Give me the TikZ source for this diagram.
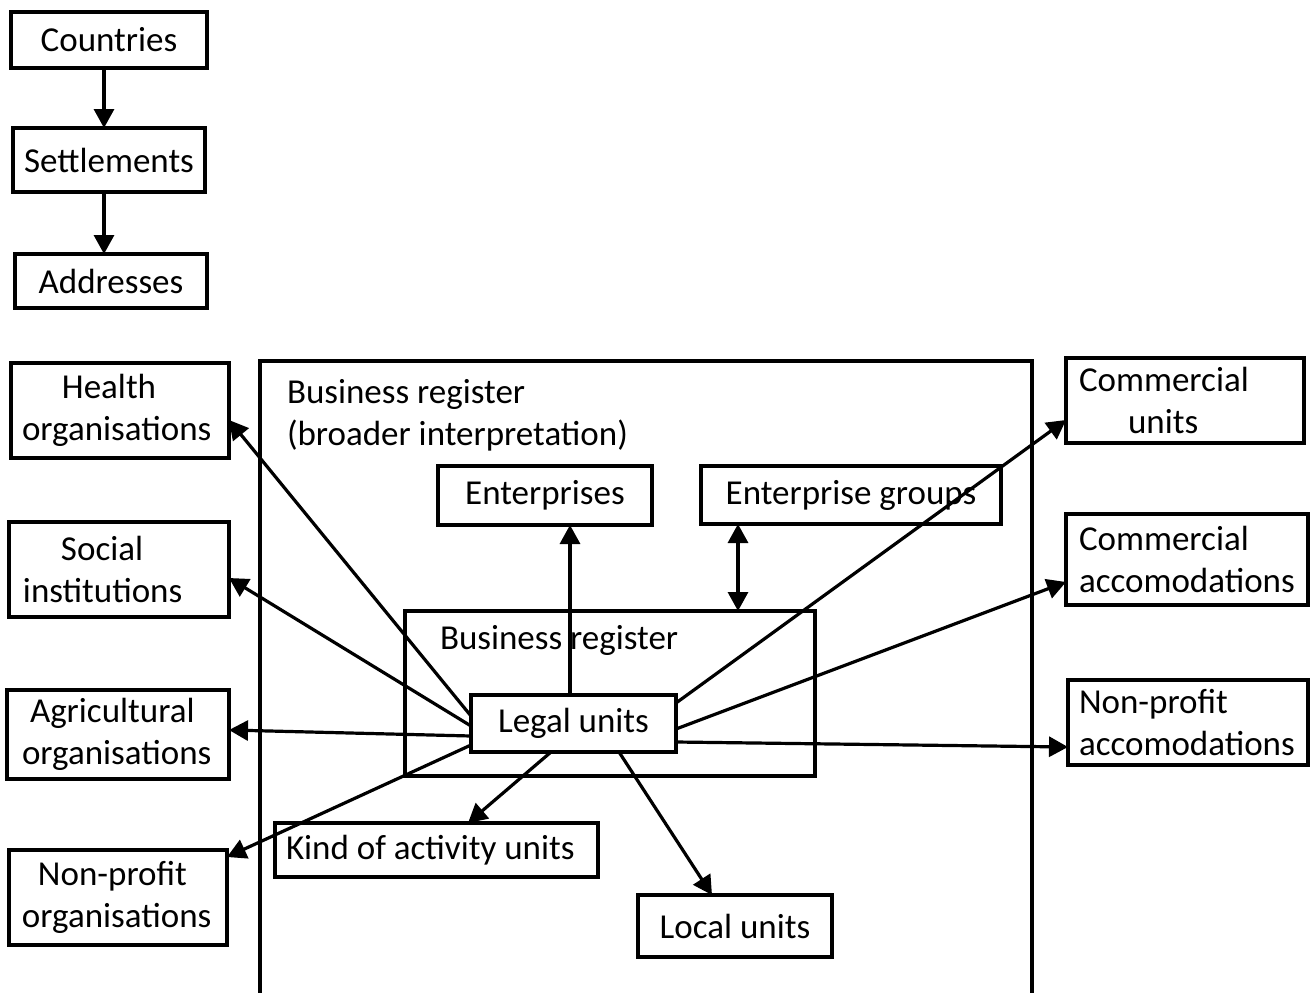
\documentclass[tikz,border=0pt]{standalone}
\usepackage{fontspec}
\setmainfont{Carlito}
\usetikzlibrary{arrows.meta,calc}
\begin{document}
\begin{tikzpicture}[x=1pt,y=-1pt,
  every node/.style={font=\fontsize{35}{42}\selectfont, inner sep=0pt, outer sep=0pt},
  box/.style={draw, line width=3.3pt},
  multi/.style={box, text width=#1, align=flush left, minimum width=#1},
  tip/.style={Triangle[length=19pt,width=20pt]},
  arr/.style={line width=3.2pt, -{Triangle[length=19pt,width=20pt]}},
  dbl/.style={line width=3.2pt, {Triangle[length=19pt,width=20pt]}-{Triangle[length=19pt,width=20pt]}},
  lbl/.style={anchor=base west}
]
\useasboundingbox (0,0) rectangle (1315,993);

% location hierarchy
\node[box, minimum width=196pt, minimum height=56pt] (countries) at (109,40) {Countries};
\node[box, minimum width=192pt, minimum height=64pt] (settlements) at (109,160) {Settlements};
\node[box, minimum width=192pt, minimum height=54pt] (addresses) at (111,281) {Addresses};

% outer frame: business register in the broader sense
\draw[line width=3.3pt] (260,995) -- (260,361) -- (1032,361) -- (1032,995);
\node[lbl] (brtitle1) at (287,403) {Business register};
\node[lbl] (brtitle2) at (287,445) {(broader interpretation)};

% inner business register
\node[box, minimum width=410pt, minimum height=165pt] (brin) at (610,693.5) {};
\node[lbl] (brintitle) at (440,649) {Business register};

\node[box, minimum width=205pt, minimum height=57pt] (legal) at (573.5,723.5) {Legal units};
\node[box, minimum width=214pt, minimum height=59pt] (ent) at (545,495.5) {Enterprises};
\node[box, minimum width=300pt, minimum height=58pt] (eg) at (851,495) {Enterprise groups};
\node[multi=323pt, minimum height=54pt] (koa) at (436.5,850) {\hspace*{11pt}Kind of activity units};
\node[box, minimum width=194pt, minimum height=62pt] (local) at (735,926) {Local units};

% left-hand registers
\node[multi=218pt, minimum height=95pt] (health) at (120,410.5) {\hspace*{51pt}Health\\\hspace*{11pt}organisations};
\node[multi=220pt, minimum height=95pt] (social) at (119,569.5) {\hspace*{52pt}Social\\\hspace*{14pt}institutions};
\node[multi=222pt, minimum height=89pt] (agri) at (118,734.5) {\hspace*{23pt}Agricultural\\\hspace*{15pt}organisations};
\node[multi=218pt, minimum height=95pt] (npo) at (118,897.5) {\hspace*{29pt}Non-profit\\\hspace*{13pt}organisations};

% right-hand registers
\node[multi=238pt, minimum height=85pt] (cu) at (1185,400.5) {\hspace*{13pt}Commercial\\\hspace*{62pt}units};
\node[multi=242pt, minimum height=91pt] (ca) at (1187,559.5) {\hspace*{13pt}Commercial\\\hspace*{13pt}accomodations};
\node[multi=240pt, minimum height=85pt] (npa) at (1188,722.5) {\hspace*{11pt}Non-profit\\\hspace*{11pt}accomodations};

% connectors
\draw[arr] ($(countries.south)+(-5,0)$) -- ($(settlements.north)+(-5,0)$);
\draw[arr] ($(settlements.south)+(-5,0)$) -- ($(addresses.north)+(-7,0)$);

\draw[arr] ($(legal.west)+(0,-7.5)$) -- ($(health.east)+(0,9.5)$);
\draw[arr] ($(legal.west)+(0,2.5)$) -- ($(social.east)+(0,8.5)$);
\draw[arr] ($(legal.west)+(0,12.5)$) -- ($(agri.east)+(0,-4.5)$);
\draw[arr] ($(legal.west)+(0,21.5)$) -- ($(npo.north east)+(0,7)$);

\draw[arr] ($(legal.north)+(-3.5,0)$) -- ($(ent.south)+(25,0)$);
\draw[dbl] ($(eg.south)+(-113,0)$) -- ($(brin.north)+(128,0)$);
\draw[arr] ($(legal.south)+(-22.5,0)$) -- ($(koa.north)+(31.5,0)$);
\draw[arr] ($(legal.south)+(45.5,0)$) -- ($(local.north)+(-23,0)$);

\draw[arr] ($(legal.north east)+(0,8)$) -- ($(cu.west)+(0,19.5)$);
\draw[arr] ($(legal.east)+(0,5.5)$) -- ($(ca.west)+(0,22.5)$);
\draw[arr] ($(legal.east)+(0,18.5)$) -- ($(npa.west)+(0,24.5)$);
\end{tikzpicture}
\end{document}
